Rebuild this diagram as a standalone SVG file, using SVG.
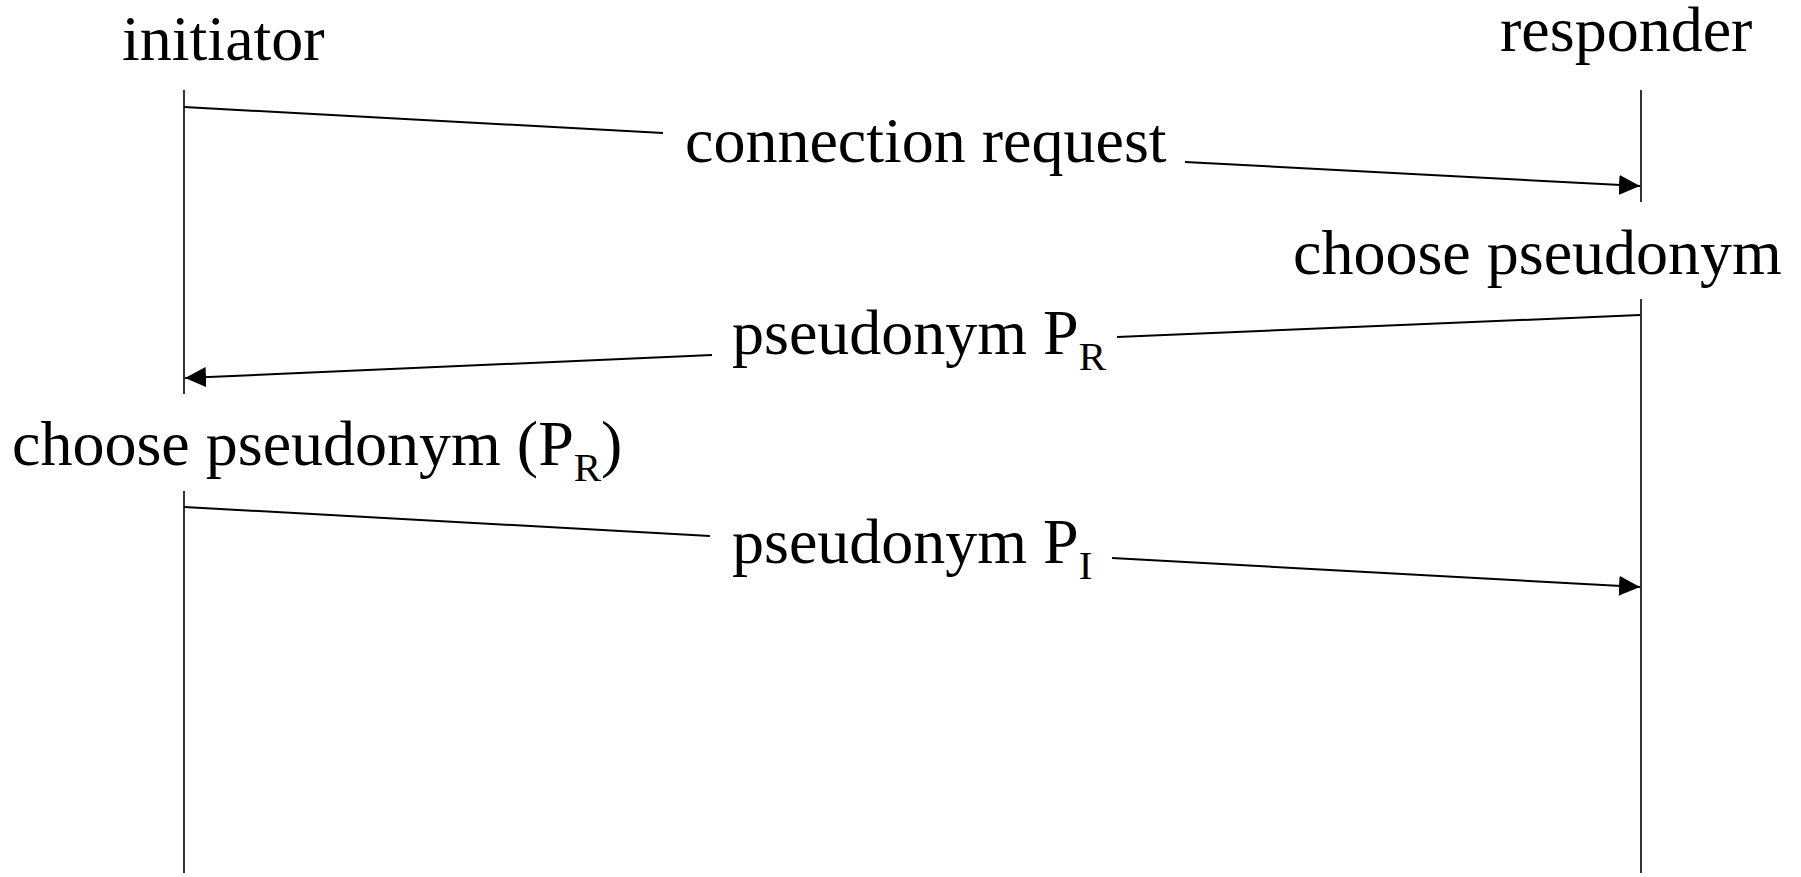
<svg xmlns="http://www.w3.org/2000/svg" width="1801" height="877" viewBox="0 0 1801 877">
<style>
text{font-family:"Liberation Serif","Times New Roman",serif;font-size:64px;fill:#000}
.sub{font-size:41px}
.life{stroke:#000;stroke-width:1.6;fill:none}
.msg{stroke:#000;stroke-width:2;fill:none}
</style>
<defs>
<marker id="arr" markerUnits="userSpaceOnUse" markerWidth="22" markerHeight="22" refX="21" refY="10" orient="auto">
<path d="M0,0 L21,10 L0,20 z" fill="#000"/>
</marker>
</defs>
<rect width="1801" height="877" fill="#fff"/>
<g id="initiator">
<text x="122" y="60">initiator</text>
<line class="life" x1="184" y1="90" x2="184" y2="394"/>
<line class="life" x1="184" y1="491" x2="184" y2="873"/>
</g>
<g id="responder">
<text x="1500" y="51">responder</text>
<line class="life" x1="1641" y1="90" x2="1641" y2="202"/>
<line class="life" x1="1641" y1="299" x2="1641" y2="873"/>
</g>
<g id="responder-choose">
<text x="1293" y="274">choose pseudonym</text>
</g>
<g id="initiator-choose">
<text x="12" y="465">choose pseudonym (P<tspan class="sub" dy="16">R</tspan><tspan dy="-16">)</tspan></text>
</g>
<g id="connectors">
<line class="msg" x1="184" y1="107" x2="663" y2="133"/>
<line class="msg" x1="1185" y1="162" x2="1640" y2="186" marker-end="url(#arr)"/>
<line class="msg" x1="1640" y1="315" x2="1117" y2="337"/>
<line class="msg" x1="712" y1="355" x2="185" y2="378" marker-end="url(#arr)"/>
<line class="msg" x1="184" y1="507" x2="710" y2="536"/>
<line class="msg" x1="1112" y1="558" x2="1640" y2="587" marker-end="url(#arr)"/>
</g>
<g id="labels">
<text x="685" y="162">connection request</text>
<text x="732" y="354">pseudonym P<tspan class="sub" dy="16">R</tspan></text>
<text x="732" y="563">pseudonym P<tspan class="sub" dy="16">I</tspan></text>
</g>
</svg>
